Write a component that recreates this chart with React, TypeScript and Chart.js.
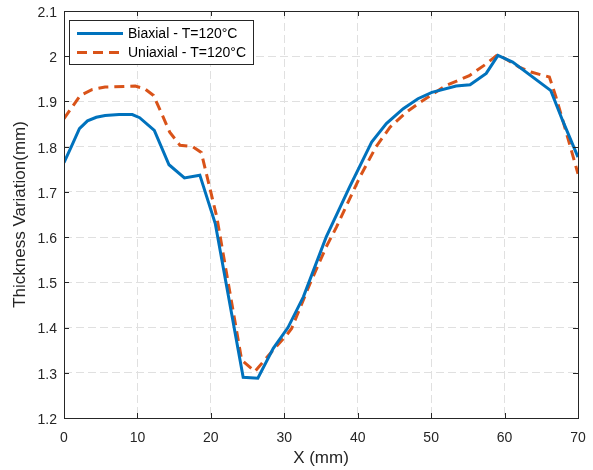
import React, { useEffect, useRef } from "react";
import { Chart, registerables } from "chart.js";

Chart.register(...registerables);

const biaxialX = [0, 1, 2.1, 3.2, 4.4, 5.6, 7.5, 9.3, 10.3, 12.3, 14.3, 16.4, 18.5, 20.6, 24.4, 26.4, 28.5, 30.5, 32.6, 35.7, 38.9, 41.9, 43.9, 46.2, 48.2, 50.1, 53.4, 55.3, 57.5, 59.1, 61.1, 66.3, 67.9, 70];
const biaxialY = [1.765, 1.8, 1.84, 1.857, 1.865, 1.869, 1.871, 1.871, 1.864, 1.836, 1.76, 1.731, 1.737, 1.63, 1.29, 1.288, 1.354, 1.4, 1.468, 1.6, 1.711, 1.81, 1.851, 1.884, 1.906, 1.92, 1.934, 1.937, 1.962, 2.002, 1.987, 1.924, 1.858, 1.777];

const uniaxialX = [0, 2.2, 3.8, 5.6, 9.7, 11, 12.2, 13.3, 14.4, 15.8, 17.5, 18.7, 20.8, 24.2, 26.0, 28.9, 30.3, 31, 33.5, 35.7, 37.1, 40.3, 42.5, 44.4, 46.6, 48.4, 52, 55.2, 57.5, 59.1, 62, 63.6, 66.1, 67, 68.2, 70];
const uniaxialY = [1.862, 1.913, 1.926, 1.932, 1.934, 1.928, 1.913, 1.873, 1.832, 1.803, 1.8, 1.787, 1.645, 1.328, 1.303, 1.358, 1.383, 1.398, 1.497, 1.578, 1.622, 1.733, 1.8, 1.843, 1.876, 1.897, 1.935, 1.957, 1.983, 2.004, 1.976, 1.965, 1.954, 1.91, 1.843, 1.74];

const seriesLabels = ["Biaxial - T=120°C", "Uniaxial - T=120°C"];
const xTicks = [0, 10, 20, 30, 40, 50, 60, 70];
const yTicks = [1.2, 1.3, 1.4, 1.5, 1.6, 1.7, 1.8, 1.9, 2, 2.1];

const BLUE = "#0072BD";
const ORANGE = "#D95319";
const FONT = "'Liberation Sans', Arial, sans-serif";

const toPoints = (xs: number[], ys: number[]) => xs.map((x, i) => ({ x, y: ys[i] }));

const zeroPad = (s: any) => {
  s.paddingLeft = 0;
  s.paddingRight = 0;
  s.paddingTop = 0;
  s.paddingBottom = 0;
};

const framePlugin = {
  id: "frame",
  afterDraw(chart: any) {
    const { ctx, chartArea: a, scales } = chart;
    ctx.save();
    ctx.strokeStyle = "#262626";
    ctx.lineWidth = 1;
    ctx.setLineDash([]);
    ctx.strokeRect(a.left + 0.5, a.top + 0.5, a.right - a.left, a.bottom - a.top);
    const tl = 5;
    ctx.beginPath();
    xTicks.forEach((t) => {
      const px = Math.round(scales.x.getPixelForValue(t)) + 0.5;
      ctx.moveTo(px, a.bottom);
      ctx.lineTo(px, a.bottom - tl);
      ctx.moveTo(px, a.top);
      ctx.lineTo(px, a.top + tl);
    });
    yTicks.forEach((t) => {
      const py = Math.round(scales.y.getPixelForValue(t)) + 0.5;
      ctx.moveTo(a.left, py);
      ctx.lineTo(a.left + tl, py);
      ctx.moveTo(a.right, py);
      ctx.lineTo(a.right - tl, py);
    });
    ctx.stroke();

    // legend
    const lx = 69.5, ly = 20.5, lw = 184, lh = 44;
    ctx.fillStyle = "#fff";
    ctx.fillRect(lx, ly, lw, lh);
    ctx.strokeStyle = "#262626";
    ctx.strokeRect(lx, ly, lw, lh);
    ctx.font = `14px ${FONT}`;
    ctx.textBaseline = "middle";
    ctx.fillStyle = "#000";
    const rows = [
      { y: 33.5, color: BLUE, dash: [] as number[] },
      { y: 52.5, color: ORANGE, dash: [10, 6] },
    ];
    rows.forEach((r, i) => {
      ctx.beginPath();
      ctx.strokeStyle = r.color;
      ctx.lineWidth = 3;
      ctx.setLineDash(r.dash);
      ctx.moveTo(77, r.y);
      ctx.lineTo(123, r.y);
      ctx.stroke();
      ctx.setLineDash([]);
      ctx.fillText(seriesLabels[i], 128, r.y + 0.5);
    });
    ctx.restore();
  },
};

export default function App() {
  const ref = useRef<HTMLCanvasElement>(null);
  useEffect(() => {
    if (!ref.current) return;
    const chart = new Chart(ref.current, {
      type: "line",
      data: {
        datasets: [
          {
            label: seriesLabels[0],
            data: toPoints(biaxialX, biaxialY),
            borderColor: BLUE,
            borderWidth: 3,
            pointRadius: 0,
            tension: 0,
            fill: false,
          },
          {
            label: seriesLabels[1],
            data: toPoints(uniaxialX, uniaxialY),
            borderColor: ORANGE,
            borderWidth: 3,
            borderDash: [10, 6],
            pointRadius: 0,
            tension: 0,
            fill: false,
          },
        ],
      },
      plugins: [framePlugin],
      options: {
        animation: false,
        responsive: false,
        maintainAspectRatio: false,
        layout: { padding: { top: 11, right: 15, left: 10, bottom: 0 } },
        plugins: { legend: { display: false }, tooltip: { enabled: false } },
        scales: {
          x: {
            type: "linear",
            min: 0,
            max: 70,
            afterBuildTicks: (s: any) => {
              s.ticks = xTicks.map((v) => ({ value: v }));
            },
            afterFit: (s: any) => {
              s.height = 52;
              zeroPad(s);
            },
            grid: {
              color: "#e0e0e0",
              drawTicks: false,
            },
            border: { display: false, dash: [8, 4] },
            ticks: {
              color: "#262626",
              font: { family: FONT, size: 14 },
              padding: 12,
              maxRotation: 0,
            },
            title: {
              display: true,
              text: "X (mm)",
              color: "#262626",
              font: { family: FONT, size: 17 },
              padding: { top: 0, bottom: 1 },
            },
          },
          y: {
            type: "linear",
            min: 1.2,
            max: 2.1,
            afterBuildTicks: (s: any) => {
              s.ticks = yTicks.map((v) => ({ value: v }));
            },
            afterFit: (s: any) => {
              s.width = 54;
              zeroPad(s);
            },
            grid: {
              color: "#e0e0e0",
              drawTicks: false,
            },
            border: { display: false, dash: [8, 4] },
            ticks: {
              color: "#262626",
              font: { family: FONT, size: 14 },
              padding: 7,
              labelOffset: 2,
              callback: (v: any) => String(Math.round(Number(v) * 10) / 10),
            },
            title: {
              display: true,
              text: "Thickness Variation(mm)",
              color: "#262626",
              font: { family: FONT, size: 17 },
              padding: { top: 0, bottom: 0 },
            },
          },
        },
      },
    });
    return () => chart.destroy();
  }, []);
  return (
    <div style={{ position: "absolute", left: 0, top: 0, width: 593, height: 470, background: "#fff" }}>
      <canvas ref={ref} width={593} height={470} style={{ width: 593, height: 470 }} />
    </div>
  );
}
